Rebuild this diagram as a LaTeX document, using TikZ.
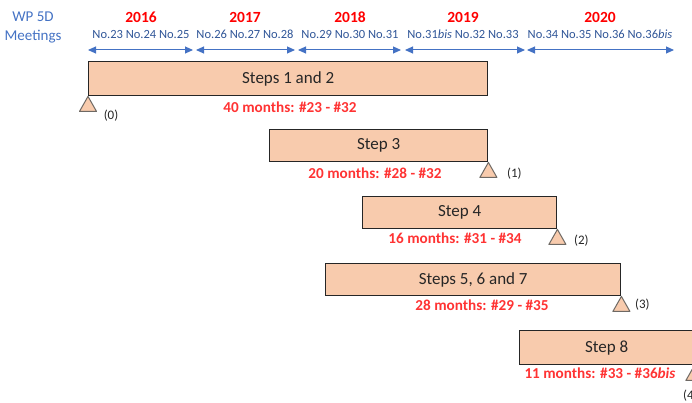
\documentclass[tikz,border=0pt]{standalone}
\usepackage{fontspec}
\setmainfont{Carlito}
\usetikzlibrary{arrows.meta}

\begin{document}
\begin{tikzpicture}[x=1pt,y=-1pt,
  stepbox/.style={draw=ink,line width=1.4pt,fill=peach,anchor=north west,
    inner sep=0pt,text=ink,font=\fontsize{17}{17}\selectfont},
  milestone/.style={draw=tri,line width=1pt,fill=peach,line join=round},
  span/.style={wpblue,line width=1pt,>={Triangle[length=8pt,width=7pt]},<->},
  nos/.style={nodark,inner sep=0pt,font=\fontsize{12.5}{12.5}\selectfont},
  months/.style={mo,inner sep=0pt,font=\bfseries\fontsize{15.2}{15}\selectfont},
  tag/.style={ink,inner sep=0pt,font=\fontsize{13}{13}\selectfont}]
 \definecolor{wpblue}{RGB}{68,114,196}
 \definecolor{nodark}{RGB}{47,85,151}
 \definecolor{yr}{RGB}{255,0,0}
 \definecolor{mo}{RGB}{255,51,51}
 \definecolor{peach}{RGB}{248,203,173}
 \definecolor{ink}{RGB}{38,38,38}
 \definecolor{tri}{RGB}{110,105,100}
 \path[use as bounding box,clip] (0,0) rectangle (692,403);
 % header
 \node[wpblue,align=center,inner sep=0pt,font=\fontsize{15}{19}\selectfont]
   (wp) at (33,27) {WP 5D\\Meetings};
 \foreach \yy/\xp in {2016/141,2017/245,2018/350,2019/463,2020/600}
   \node[yr,inner sep=0pt,font=\bfseries\fontsize{15.5}{15}\selectfont] (y\yy) at (\xp,17) {\yy};
 \foreach \k/\xp/\txt in {
   1/141/{No.23 No.24 No.25}, 2/245/{No.26 No.27 No.28},
   3/350/{No.29 No.30 No.31}, 4/463/{No.31\textit{bis} No.32 No.33},
   5/600/{No.34 No.35 No.36 No.36\textit{bis}}
 }
   \node[nos] (n\k) at (\xp,34) {\txt};
 \foreach \k/\xa/\xb in {1/88/193,2/196/295,3/298/401,4/405/525,5/527/674} {
   \coordinate (a\k) at (\xa,50);
   \coordinate (b\k) at (\xb,50);
   \draw[span] (a\k) -- (b\k);
 }
 % steps
 \foreach \nm/\xa/\xb/\ya/\yb/\txt in {
   s12/88/487/61/95/{Steps 1 and 2}, s3/269/487/129/161/{Step 3},
   s4/362/556/196/228/{Step 4}, s567/325/620/263/295/{Steps 5, 6 and 7},
   s8/519/693/330/364/{Step 8}
 }
   \node[stepbox,minimum width=\xb-\xa,minimum height=\yb-\ya] (\nm) at (\xa,\ya) {\txt};
 \foreach \nm/\cn/\k/\dx/\dy in {
   s12/south west/0/23/19, s3/south east/1/26/11, s4/south east/2/24/11,
   s567/south east/3/21/8, s8/south east/4/-4/30
 } {
   \draw[milestone] (\nm.\cn) -- ++(-8.5,15) -- ++(17,0) -- cycle;
   \node[tag] (t\k) at ([shift={(\dx,\dy)}]\nm.\cn) {(\k)};
 }
 \foreach \nm/\xp/\yp/\txt in {
   s12/290/107/{40 months: \#23 - \#32}, s3/375/173/{20 months: \#28 - \#32},
   s4/455/238/{16 months: \#31 - \#34}, s567/482/305/{28 months: \#29 - \#35},
   s8/600/373/{11 months: \#33 - \#36\textit{bis}}
 }
   \node[months] (m\nm) at (\xp,\yp) {\txt};
\end{tikzpicture}
\end{document}
